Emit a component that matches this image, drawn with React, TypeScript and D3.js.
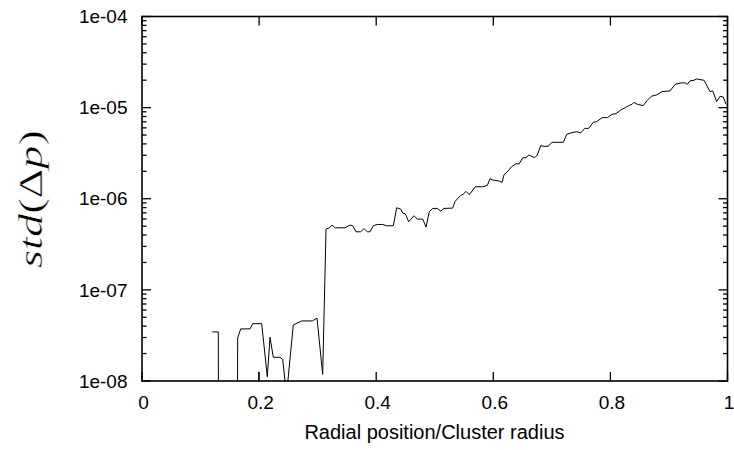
import React from 'react';
import * as d3 from 'd3';

// Radial position / cluster radius
const radius: number[] = [
  0.1201, 0.1303, 0.135,
  0.147,
  0.159, 0.1634, 0.1686, 0.1845, 0.1891, 0.2044, 0.2140, 0.2186, 0.2243, 0.2357,
  0.2403, 0.2468, 0.2584, 0.2728, 0.2909, 0.2989, 0.3086, 0.3143, 0.3199, 0.3245,
  0.3301, 0.3467, 0.3553, 0.3599, 0.3655, 0.3735, 0.3792, 0.3848, 0.3894, 0.3950,
  0.4019, 0.4111, 0.4179, 0.4292, 0.4350, 0.4418, 0.4453, 0.4497, 0.4555, 0.4646,
  0.4702, 0.4794, 0.4851, 0.4907, 0.4965, 0.5044, 0.5102, 0.5158, 0.5307, 0.5346,
  0.5443, 0.5488, 0.5534, 0.5590, 0.5693, 0.5819, 0.5898, 0.5944, 0.5990, 0.6102,
  0.6149, 0.6183, 0.6229, 0.6308, 0.6388, 0.6444, 0.6502, 0.6558, 0.6605, 0.6707,
  0.6751, 0.6810, 0.6866, 0.6934, 0.7003, 0.7196, 0.7254, 0.7322, 0.7425, 0.7493,
  0.7561, 0.7629, 0.7708, 0.7766, 0.7857, 0.7947, 0.8027, 0.8096, 0.8186, 0.8255,
  0.8313, 0.8369, 0.8403, 0.8460, 0.8562, 0.8620, 0.8699, 0.8791, 0.8881, 0.9018,
  0.9108, 0.9211, 0.9279, 0.9313, 0.9360, 0.9428, 0.9474, 0.9530, 0.9599, 0.9701,
  0.9747, 0.9815, 0.9872, 0.9928, 0.9974,
];

// std(Δp); null = zero (undefined on log axis), 1e-20 = far below the axis
const stdDp: (number | null)[] = [
  3.46e-8, 3.46e-8, 1e-20,
  null,
  1e-20, 2.97e-8, 3.73e-8, 3.73e-8, 4.26e-8, 4.26e-8, 1.115e-8, 3.02e-8, 1.82e-8, 1.82e-8,
  1.73e-8, 7.0e-9, 4.12e-8, 4.56e-8, 4.56e-8, 4.89e-8, 1.185e-8, 4.64e-7, 4.80e-7, 5.14e-7,
  4.80e-7, 4.80e-7, 5.14e-7, 5.05e-7, 4.34e-7, 4.34e-7, 4.72e-7, 4.34e-7, 4.34e-7, 5.05e-7,
  5.22e-7, 5.22e-7, 5.05e-7, 5.05e-7, 7.96e-7, 7.71e-7, 6.97e-7, 6.84e-7, 5.59e-7, 6.51e-7,
  5.98e-7, 5.98e-7, 4.89e-7, 7.20e-7, 7.83e-7, 7.83e-7, 7.32e-7, 7.83e-7, 7.90e-7, 9.34e-7,
  1.087e-6, 1.126e-6, 1.203e-6, 1.107e-6, 1.355e-6, 1.355e-6, 1.40e-6, 1.66e-6, 1.605e-6, 1.565e-6,
  1.51e-6, 1.835e-6, 1.945e-6, 2.23e-6, 2.42e-6, 2.42e-6, 2.82e-6, 2.82e-6, 3.02e-6, 2.82e-6,
  3.02e-6, 3.82e-6, 3.76e-6, 3.76e-6, 4.16e-6, 4.16e-6, 5.09e-6, 5.27e-6, 5.45e-6, 5.27e-6,
  5.92e-6, 5.92e-6, 6.90e-6, 7.02e-6, 7.76e-6, 7.76e-6, 8.44e-6, 8.59e-6, 9.51e-6, 1.0e-5,
  1.052e-5, 1.087e-5, 1.143e-5, 1.087e-5, 1.052e-5, 1.185e-5, 1.331e-5, 1.379e-5, 1.499e-5, 1.526e-5,
  1.803e-5, 1.868e-5, 1.868e-5, 1.803e-5, 1.965e-5, 1.995e-5, 2.067e-5, 2.03e-5, 1.995e-5, 1.499e-5,
  1.526e-5, 1.164e-5, 1.331e-5, 1.311e-5, 1.087e-5,
];

// short isolated stub near r = 0.2
const stubRadius: number[] = [0.1990, 0.1993];
const stubStd: number[] = [1e-20, 1.265e-8];

const xTicks: number[] = [0, 0.2, 0.4, 0.6, 0.8, 1];
const xTickLabels: string[] = ['0', '0.2', '0.4', '0.6', '0.8', '1'];
const yTicks: number[] = [1e-8, 1e-7, 1e-6, 1e-5, 1e-4];
const yTickLabels: string[] = ['1e-08', '1e-07', '1e-06', '1e-05', '1e-04'];

const W = 734;
const H = 450;
const L = 142;
const R = 727.5;
const T = 16.5;
const B = 381;

export default function App() {
  const x = d3.scaleLinear().domain([0, 1]).range([L, R]);
  const y = d3.scaleLog().domain([1e-8, 1e-4]).range([B, T]);

  const pts = radius.map((r, i) => ({ r, v: stdDp[i] }));
  const line = d3
    .line<{ r: number; v: number | null }>()
    .defined((d) => d.v !== null)
    .x((d) => x(d.r))
    .y((d) => y(d.v as number));
  const mainPath = line(pts) || '';
  const stubPath =
    line(stubRadius.map((r, i) => ({ r, v: stubStd[i] }))) || '';

  const minor: number[] = [];
  for (let e = -8; e < -4; e++) {
    for (let m = 2; m <= 9; m++) minor.push(m * Math.pow(10, e));
  }

  const font = "'Liberation Sans', Arial, Helvetica, sans-serif";
  const major = 9;
  const minorLen = 4.5;

  return (
    <svg
      width={W}
      height={H}
      style={{ position: 'absolute', left: 0, top: 0, background: '#fff' }}
    >
      <defs>
        <clipPath id="plotclip">
          <rect x={L} y={T} width={R - L} height={B - T} />
        </clipPath>
      </defs>
      <rect x={0} y={0} width={W} height={H} fill="#fff" />

      {/* data */}
      <g clipPath="url(#plotclip)">
        <path d={mainPath} fill="none" stroke="#000" strokeWidth={1} />
        <path d={stubPath} fill="none" stroke="#000" strokeWidth={1} />
      </g>

      {/* ticks */}
      <g stroke="#000" strokeWidth={1.3}>
        {yTicks.map((t) => (
          <g key={'yt' + t}>
            <line x1={L} x2={L + major} y1={y(t)} y2={y(t)} />
            <line x1={R} x2={R - major} y1={y(t)} y2={y(t)} />
          </g>
        ))}
        {minor.map((t) => (
          <g key={'ym' + t}>
            <line x1={L} x2={L + minorLen} y1={y(t)} y2={y(t)} />
            <line x1={R} x2={R - minorLen} y1={y(t)} y2={y(t)} />
          </g>
        ))}
        {xTicks.map((t) => (
          <g key={'xt' + t}>
            <line x1={x(t)} x2={x(t)} y1={B} y2={B - major} />
            <line x1={x(t)} x2={x(t)} y1={T} y2={T + major} />
          </g>
        ))}
      </g>

      {/* frame */}
      <rect
        x={L}
        y={T}
        width={R - L}
        height={B - T}
        fill="none"
        stroke="#000"
        strokeWidth={1.6}
      />

      {/* tick labels */}
      {yTicks.map((t, i) => (
        <text
          key={'yl' + t}
          x={127.5}
          y={y(t)}
          dy="0.35em"
          textAnchor="end"
          fontFamily={font}
          fontSize={19}
          fill="#000"
        >
          {yTickLabels[i]}
        </text>
      ))}
      {xTicks.map((t, i) => (
        <text
          key={'xl' + t}
          x={x(t) + 1.5}
          y={409}
          textAnchor="middle"
          fontFamily={font}
          fontSize={19}
          fill="#000"
        >
          {xTickLabels[i]}
        </text>
      ))}

      {/* axis labels */}
      <text
        x={434.5}
        y={439}
        textAnchor="middle"
        fontFamily={font}
        fontSize={20}
        fill="#000"
      >
        Radial position/Cluster radius
      </text>
      <text
        transform="translate(42,199) rotate(-90)"
        textAnchor="middle"
        fontFamily="'Liberation Serif', 'DejaVu Serif', serif"
        fontSize={34}
        fill="#000"
        stroke="#fff"
        strokeWidth={0.45}
        textLength={138}
        lengthAdjust="spacingAndGlyphs"
      >
        <tspan fontStyle="italic">std</tspan>
        <tspan>(Δ</tspan>
        <tspan fontStyle="italic">p</tspan>
        <tspan>)</tspan>
      </text>
    </svg>
  );
}
